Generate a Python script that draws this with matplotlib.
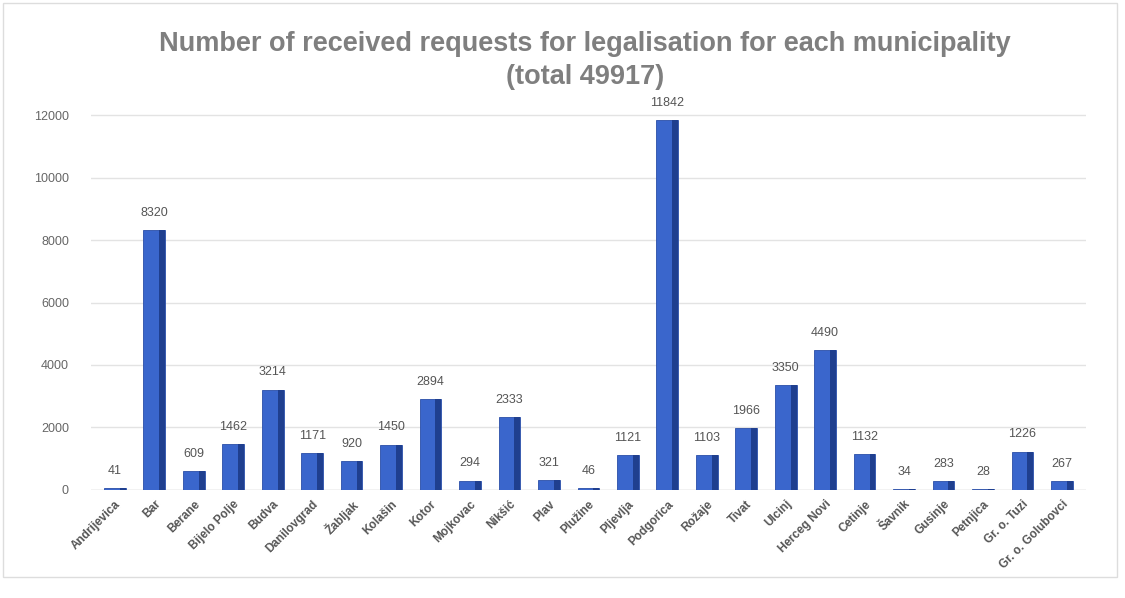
import matplotlib
matplotlib.use("Agg")
import matplotlib.pyplot as plt
from matplotlib.patches import Rectangle

municipalities = ["Andrijevica", "Bar", "Berane", "Bijelo Polje", "Budva", "Danilovgrad",
                  "Žabljak", "Kolašin", "Kotor", "Mojkovac", "Nikšić", "Plav", "Plužine",
                  "Pljevlja", "Podgorica", "Rožaje", "Tivat", "Ulcinj", "Herceg Novi",
                  "Cetinje", "Šavnik", "Gusinje", "Petnjica", "Gr. o. Tuzi", "Gr. o. Golubovci"]
requests = [41, 8320, 609, 1462, 3214, 1171, 920, 1450, 2894, 294, 2333, 321, 46,
            1121, 11842, 1103, 1966, 3350, 4490, 1132, 34, 283, 28, 1226, 267]
yticks = [0, 2000, 4000, 6000, 8000, 10000, 12000]
title = "Number of received requests for legalisation for each municipality\n(total 49917)"

plt.rcParams['font.family'] = ['Liberation Sans', 'DejaVu Sans']

fig = plt.figure(figsize=(11.25, 5.98), dpi=100)
ax = fig.add_axes([0.081, 0.181, 0.884, 0.652])

x = list(range(len(municipalities)))
front = "#3a66cc"
side = "#1f3f8f"
ax.bar(x, requests, width=0.55, color=front, edgecolor="#2a4ea8", linewidth=0.6, zorder=3)
ax.bar([i + 0.2 for i in x], requests, width=0.15, color=side, linewidth=0, zorder=4)

for i, v in zip(x, requests):
    ax.annotate(str(v), (i, v), xytext=(0, 8), textcoords="offset points",
                ha="center", va="bottom", fontsize=9, color="#555555", zorder=5)

ax.set_xlim(-0.6, len(municipalities) - 0.4)
ax.set_ylim(0, 12500)
ax.set_yticks(yticks)
ax.set_yticklabels([str(t) for t in yticks], fontsize=9, color="#666666")
ax.yaxis.grid(True, color="#e3e3e3", linewidth=1, zorder=0)
ax.set_axisbelow(True)
ax.set_xticks(x)
ax.set_xticklabels(municipalities, rotation=45, ha="right", rotation_mode="anchor",
                   fontsize=8.5, color="#555555", fontweight="bold")
ax.tick_params(axis="y", length=0, pad=16)
ax.tick_params(axis="x", length=0, pad=6)
for s in ax.spines.values():
    s.set_visible(False)
ax.axhline(0, color="#d8d8d8", linewidth=1, zorder=1)

fig.text(0.52, 0.948, title, ha="center", va="top", fontsize=19.5, fontweight="bold",
         color="#7f7f7f", linespacing=1.35)

fig.patches.append(Rectangle((0.003, 0.035), 0.99, 0.96, transform=fig.transFigure,
                             fill=False, edgecolor="#dddddd", linewidth=1))

fig.savefig("out.png", dpi=100, facecolor="white")
